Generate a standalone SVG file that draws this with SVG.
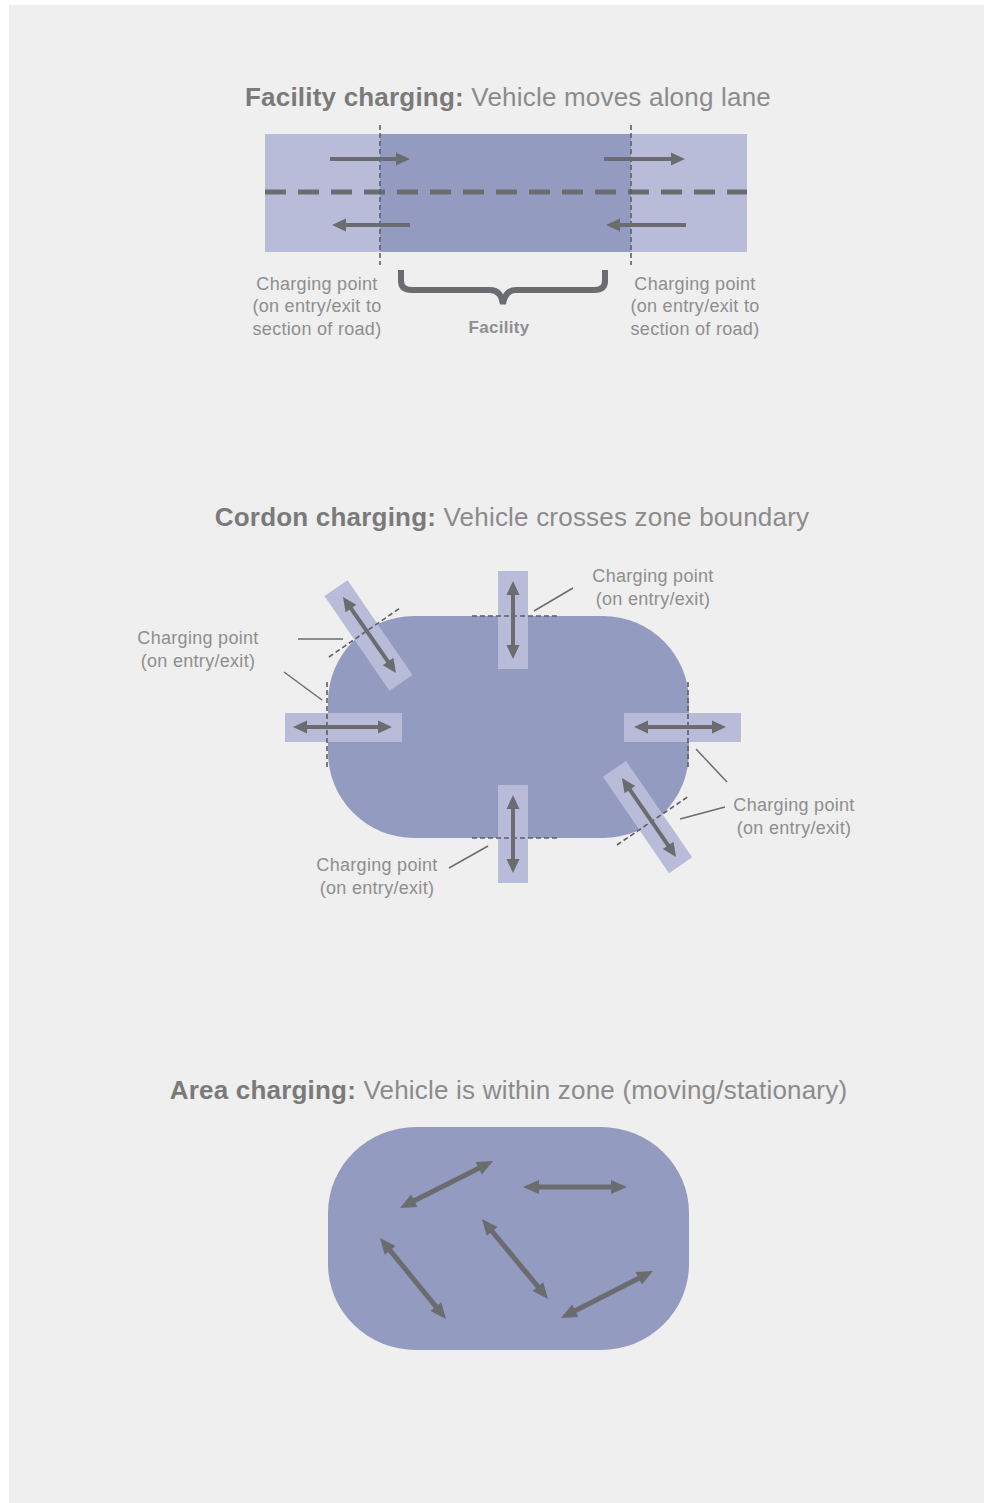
<svg xmlns="http://www.w3.org/2000/svg" width="984" height="1503" viewBox="0 0 984 1503">
<style>
.t{font-family:"Liberation Sans",Arial,sans-serif;font-size:26px;fill:#8b8b8b;text-anchor:middle;letter-spacing:0.2px}
.tb{font-weight:bold;fill:#7a7a7a}
.l{font-family:"Liberation Sans",Arial,sans-serif;font-size:18px;fill:#8e8e8e;text-anchor:middle;letter-spacing:0.3px}
.road{fill:#b9bcd9}
.zone{fill:#939bc0}
.ar{stroke:#6b6c70;stroke-width:4;fill:none;marker-end:url(#ah)}
.ar2{stroke:#6b6c70;stroke-width:4;fill:none;marker-start:url(#ah);marker-end:url(#ah)}
.ar3{stroke:#6b6c70;stroke-width:5;fill:none;marker-start:url(#ah2);marker-end:url(#ah2)}
.dash{stroke:#5e5f63;stroke-width:1.6;stroke-dasharray:5 3;fill:none}
.lead{stroke:#6b6c70;stroke-width:1.5;fill:none}
</style>
<defs>
<marker id="ah" markerUnits="userSpaceOnUse" viewBox="0 -7 14 14" refX="4" refY="0" markerWidth="14" markerHeight="14" orient="auto-start-reverse" overflow="visible">
<path d="M0,-6.5 L14,0 L0,6.5 z" fill="#6b6c70"/>
</marker>
<marker id="ah2" markerUnits="userSpaceOnUse" viewBox="0 -8 16 16" refX="4" refY="0" markerWidth="16" markerHeight="16" orient="auto-start-reverse" overflow="visible">
<path d="M0,-7 L16,0 L0,7 z" fill="#6b6c70"/>
</marker>
</defs>
<rect x="0" y="0" width="984" height="1503" fill="#ffffff"/>
<rect x="9" y="5" width="975" height="1498" fill="#efefef"/>

<g id="facility">
<text class="t" x="508" y="106"><tspan class="tb">Facility charging:</tspan> Vehicle moves along lane</text>
<rect class="road" x="265" y="134" width="482" height="118"/>
<rect class="zone" x="380" y="134" width="251" height="118"/>
<line x1="265" y1="192" x2="747" y2="192" stroke="#6b6c70" stroke-width="5" stroke-dasharray="21 12"/>
<line class="dash" x1="380" y1="125" x2="380" y2="265"/>
<line class="dash" x1="631" y1="125" x2="631" y2="265"/>
<path d="M401,270 L401,281 Q401,290 412,290 L490,290 Q501,290 503,304 Q505,290 516,290 L594,290 Q605,290 605,281 L605,270" stroke="#6b6c70" stroke-width="6" fill="none"/>
<text class="l" x="317" y="290">Charging point</text>
<text class="l" x="317" y="312">(on entry/exit to</text>
<text class="l" x="317" y="335">section of road)</text>
<text class="l" x="695" y="290">Charging point</text>
<text class="l" x="695" y="312">(on entry/exit to</text>
<text class="l" x="695" y="335">section of road)</text>
<text class="l tb" x="499" y="333" style="font-size:17px">Facility</text>
</g>

<g id="facility-arrows">
<line class="ar" x1="330" y1="159" x2="400" y2="159"/>
<line class="ar" x1="604" y1="159" x2="675" y2="159"/>
<line class="ar" x1="410" y1="225" x2="342" y2="225"/>
<line class="ar" x1="686" y1="225" x2="616" y2="225"/>
</g>

<g id="cordon">
<text class="t" x="512" y="526"><tspan class="tb">Cordon charging:</tspan> Vehicle crosses zone boundary</text>
<rect class="zone" x="328" y="616" width="361" height="222" rx="86" ry="86"/>
<rect class="road" x="498" y="571" width="30" height="98"/>
<rect class="road" x="498" y="785" width="30" height="98"/>
<rect class="road" x="285" y="713" width="117" height="29"/>
<rect class="road" x="624" y="713" width="117" height="29"/>
<rect class="road" x="-57.5" y="-14" width="115" height="28" transform="translate(368.5,635.5) rotate(55.6)"/>
<rect class="road" x="-58.5" y="-14" width="117" height="28" transform="translate(647.5,817) rotate(55.6)"/>
<line class="dash" x1="472" y1="616" x2="558" y2="616"/>
<line class="dash" x1="472" y1="838" x2="558" y2="838"/>
<line class="dash" x1="327" y1="682" x2="327" y2="770"/>
<line class="dash" x1="688" y1="682" x2="688" y2="770"/>
<line class="dash" x1="329" y1="657" x2="400" y2="608"/>
<line class="dash" x1="617" y1="845" x2="689" y2="796"/>
<text class="l" x="653" y="582">Charging point</text>
<text class="l" x="653" y="605">(on entry/exit)</text>
<text class="l" x="198" y="644">Charging point</text>
<text class="l" x="198" y="667">(on entry/exit)</text>
<text class="l" x="794" y="811">Charging point</text>
<text class="l" x="794" y="834">(on entry/exit)</text>
<text class="l" x="377" y="871">Charging point</text>
<text class="l" x="377" y="894">(on entry/exit)</text>
</g>

<g id="cordon-connectors">
<line class="ar2" x1="513" y1="591" x2="513" y2="649"/>
<line class="ar2" x1="513" y1="805" x2="513" y2="863"/>
<line class="ar2" x1="303" y1="727" x2="382" y2="727"/>
<line class="ar2" x1="644" y1="727" x2="716" y2="727"/>
<line class="ar2" x1="348.7" y1="605.2" x2="390.3" y2="664.8"/>
<line class="ar2" x1="627.6" y1="786.3" x2="670.4" y2="848.7"/>
<line class="lead" x1="534" y1="611" x2="573" y2="588"/>
<line class="lead" x1="298" y1="639" x2="343" y2="639"/>
<line class="lead" x1="284" y1="672" x2="322" y2="700"/>
<line class="lead" x1="696" y1="749" x2="727" y2="782"/>
<line class="lead" x1="680" y1="819" x2="725" y2="807"/>
<line class="lead" x1="449" y1="868" x2="488" y2="846"/>
</g>

<g id="area">
<text class="t" x="508.5" y="1099"><tspan class="tb">Area charging:</tspan> Vehicle is within zone (moving/stationary)</text>
<rect class="zone" x="328" y="1127" width="361" height="223" rx="88" ry="86"/>
</g>

<g id="area-arrows">
<line class="ar3" x1="410.7" y1="1202.6" x2="482.3" y2="1166.4"/>
<line class="ar3" x1="535" y1="1187" x2="615" y2="1187"/>
<line class="ar3" x1="387.6" y1="1247.3" x2="438.4" y2="1309.7"/>
<line class="ar3" x1="489.6" y1="1228.3" x2="540.4" y2="1289.7"/>
<line class="ar3" x1="571.7" y1="1312.5" x2="642.3" y2="1276.5"/>
</g>
</svg>
